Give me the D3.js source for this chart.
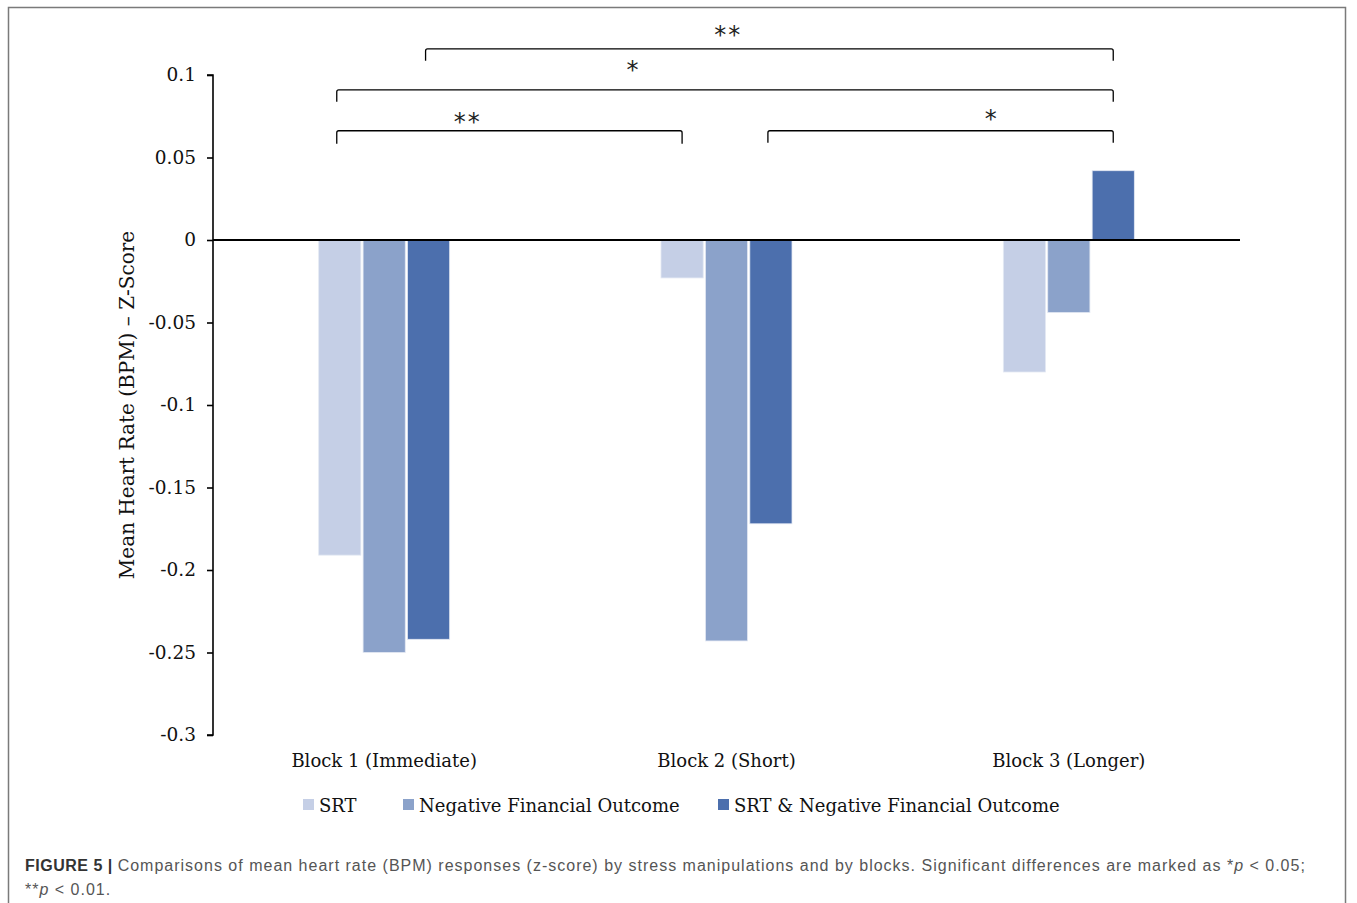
<!DOCTYPE html>
<html>
<head>
<meta charset="utf-8">
<script src="https://cdn.jsdelivr.net/npm/d3@7"></script>
<style>
  html, body { margin: 0; padding: 0; background: #fff; }
  svg { display: block; }
</style>
</head>
<body>
<script>
// Categories, series and values of the heart-rate chart
const categories = ["Block 1 (Immediate)", "Block 2 (Short)", "Block 3 (Longer)"];
const seriesNames = ["SRT", "Negative Financial Outcome", "SRT & Negative Financial Outcome"];
const srtValues = [-0.191, -0.023, -0.080];
const nfoValues = [-0.250, -0.243, -0.044];
const srtNfoValues = [-0.242, -0.172, 0.042];
const yTickValues = [0.1, 0.05, 0, -0.05, -0.1, -0.15, -0.2, -0.25, -0.3];
const yTickLabels = ["0.1", "0.05", "0", "-0.05", "-0.1", "-0.15", "-0.2", "-0.25", "-0.3"];
// Significance comparisons: [category index, series index] endpoints and marker
const comparisons = [
  { from: [0, 2], to: [2, 2], label: "**" },
  { from: [0, 0], to: [2, 2], label: "*" },
  { from: [0, 0], to: [1, 0], label: "**" },
  { from: [1, 2], to: [2, 2], label: "*" }
];

// Styling and layout
const seriesColors = ["#c5cfe6", "#8ba2ca", "#4c6fad"];
// bracket level / tip height in z units, label position along the bracket and raise in px
const bracketLayout = [
  { level: 0.1158, tip: 0.1086, at: 0.44, raise: 19 },
  { level: 0.0910, tip: 0.0838, at: 0.382, raise: 24 },
  { level: 0.0662, tip: 0.0584, at: 0.379, raise: 13 },
  { level: 0.0662, tip: 0.0590, at: 0.648, raise: 16.5 }
];

const series = [srtValues, nfoValues, srtNfoValues];
const W = 1357, H = 903;
const serif = "'DejaVu Serif', Georgia, serif";

const svg = d3.select("body").append("svg")
  .attr("width", W).attr("height", H)
  .style("background", "#fff");

// Figure frame
svg.append("rect")
  .attr("x", 8.5).attr("y", 7.5).attr("width", 1337).attr("height", 905)
  .attr("fill", "none").attr("stroke", "#7a7a7a").attr("stroke-width", 1.5);

const x0 = d3.scaleBand().domain(categories).range([213, 1240]);
const groupHalf = 65.5;
const x1 = d3.scaleBand().domain(seriesNames)
  .range([x0.bandwidth() / 2 - groupHalf, x0.bandwidth() / 2 + groupHalf])
  .paddingInner(0.05);
const y = d3.scaleLinear().domain([-0.3, 0.1]).range([735, 75]);

// Bars
const groups = svg.append("g").selectAll("g")
  .data(categories)
  .join("g")
  .attr("transform", d => `translate(${x0(d)},0)`);

groups.selectAll("rect")
  .data((c, ci) => seriesNames.map((s, si) => ({ s, si, v: series[si][ci] })))
  .join("rect")
  .attr("x", d => x1(d.s))
  .attr("width", x1.bandwidth())
  .attr("y", d => y(Math.max(0, d.v)))
  .attr("height", d => Math.abs(y(d.v) - y(0)))
  .attr("fill", d => seriesColors[d.si])
  .attr("stroke", "#e4e9f3")
  .attr("stroke-width", 0.8);

// Y axis
const yAxis = d3.axisLeft(y)
  .tickValues(yTickValues)
  .tickFormat((d, i) => yTickLabels[i])
  .tickSize(6)
  .tickPadding(11);
const gy = svg.append("g").attr("transform", "translate(213,0)").call(yAxis);
gy.attr("font-family", serif).attr("font-size", 18.5);
gy.select(".domain").attr("stroke", "#000").attr("stroke-width", 1.6).attr("d", "M-6,75H0V735H-6");
gy.selectAll(".tick line").attr("stroke", "#000").attr("stroke-width", 1.6);
gy.selectAll(".tick text").attr("fill", "#111");

// Zero baseline
svg.append("line")
  .attr("x1", 213).attr("x2", 1240).attr("y1", y(0)).attr("y2", y(0))
  .attr("stroke", "#000").attr("stroke-width", 1.8);

// Y axis title
svg.append("text")
  .attr("transform", `translate(134,${(y(0.1) + y(-0.3)) / 2}) rotate(-90)`)
  .attr("text-anchor", "middle")
  .attr("font-family", serif).attr("font-size", 20).attr("fill", "#111")
  .text("Mean Heart Rate (BPM) \u2013 Z-Score");

// Category labels
svg.append("g").selectAll("text")
  .data(categories)
  .join("text")
  .attr("x", d => x0(d) + x0.bandwidth() / 2)
  .attr("y", 767)
  .attr("text-anchor", "middle")
  .attr("font-family", serif).attr("font-size", 18).attr("fill", "#111")
  .text(d => d);

// Significance brackets
const barCenter = ([ci, si]) => x0(categories[ci]) + x1(seriesNames[si]) + x1.bandwidth() / 2;
const bg = svg.append("g");
comparisons.forEach((b, i) => {
  const L = bracketLayout[i];
  const xa = barCenter(b.from) - 3, xb = barCenter(b.to);
  const yl = y(L.level), yt = y(L.tip), r = 2;
  bg.append("path")
    .attr("d", `M${xa},${yt}V${yl + r}Q${xa},${yl} ${xa + r},${yl}H${xb - r}Q${xb},${yl} ${xb},${yl + r}V${yt}`)
    .attr("fill", "none").attr("stroke", "#000").attr("stroke-width", 1.3);
  bg.append("text")
    .attr("x", xa + (xb - xa) * L.at)
    .attr("y", yl - L.raise + 12.6)
    .attr("text-anchor", "middle")
    .attr("font-family", "'DejaVu Sans', sans-serif").attr("font-size", 24)
    .attr("letter-spacing", 2)
    .attr("fill", "#222")
    .text(b.label);
});

// Legend
const legendX = [303, 403, 718];
const lg = svg.append("g");
seriesNames.forEach((s, i) => {
  lg.append("rect")
    .attr("x", legendX[i]).attr("y", 799).attr("width", 11).attr("height", 11)
    .attr("fill", seriesColors[i]);
  lg.append("text")
    .attr("x", legendX[i] + 16).attr("y", 812)
    .attr("font-family", serif).attr("font-size", 18).attr("fill", "#111")
    .text(s);
});

// Caption
const sans = "'Liberation Sans', Arial, Helvetica, sans-serif";
const cap1 = svg.append("text")
  .attr("x", 25).attr("y", 871)
  .attr("font-family", sans).attr("font-size", 16).attr("letter-spacing", 1.0).attr("fill", "#555");
cap1.append("tspan").attr("font-weight", "bold").attr("fill", "#333").attr("letter-spacing", 0.5).text("FIGURE 5 | ");
cap1.append("tspan").text("Comparisons of mean heart rate (BPM) responses (z-score) by stress manipulations and by blocks. Significant differences are marked as *");
cap1.append("tspan").attr("font-style", "italic").text("p");
cap1.append("tspan").text(" < 0.05;");

const cap2 = svg.append("text")
  .attr("x", 25).attr("y", 895)
  .attr("font-family", sans).attr("font-size", 16).attr("letter-spacing", 1.0).attr("fill", "#555");
cap2.append("tspan").text("**");
cap2.append("tspan").attr("font-style", "italic").text("p");
cap2.append("tspan").text(" < 0.01.");
</script>
</body>
</html>
